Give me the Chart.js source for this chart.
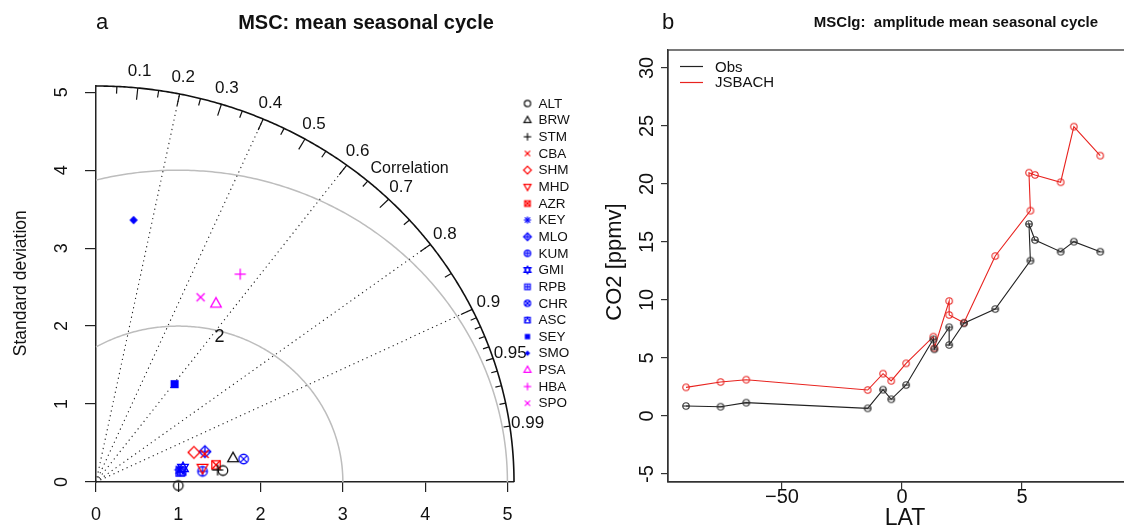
<!DOCTYPE html>
<html><head><meta charset="utf-8">
<script src="https://cdn.jsdelivr.net/npm/chart.js@4.4.1/dist/chart.umd.min.js"></script>
<style>
html,body{margin:0;padding:0;background:#fff;overflow:hidden;width:1124px;height:525px;position:relative}
#ca{position:absolute;left:0;top:0}
#cb{position:absolute;left:560px;top:0}
</style></head><body>
<canvas id="ca" width="600" height="525"></canvas>
<canvas id="cb" width="600" height="525"></canvas>
<script>
// ---------- Panel a: Taylor diagram data ----------
const stations = ['ALT','BRW','STM','CBA','SHM','MHD','AZR','KEY','MLO','KUM','GMI','RPB','CHR','ASC','SEY','SMO','PSA','HBA','SPO'];
const sdNorm   = [1.550,1.693,1.486,1.368,1.249,1.307,1.475,1.028,1.380,1.302,1.072,1.032,1.818,1.049,1.577,3.391,2.715,3.191,2.689];
const corrVals = [0.9955,0.9835,0.9946,0.9649,0.9527,0.9905,0.9888,0.9883,0.9593,0.9945,0.9858,0.9923,0.9868,0.9911,0.6056,0.1348,0.5371,0.5493,0.4726];
const refSd = 1;
const maxSd = 5.08;
const rmsArcs = [2, 4];
const corrLines = [0.2, 0.4, 0.6, 0.8, 0.9];
const corrLabels = [0.1,0.2,0.3,0.4,0.5,0.6,0.7,0.8,0.9,0.95,0.99];
const bigTicks = [0.1,0.2,0.3,0.4,0.5,0.6,0.7,0.8,0.9];
const medTicks = [0.05,0.15,0.25,0.35,0.45,0.55,0.65,0.75,0.85,0.95];
const smlTicks = [0.91,0.92,0.93,0.94,0.96,0.97,0.98,0.99];
const sdTicks = [0,1,2,3,4,5];

// styles per station
const symTypes = ['circle','tri','plus','x','dia','trid','sqx','ast','diaplus','circplus','david','sqplus','circx','sqtri','sqfill','diafill','tri','plus','x'];
const symColors = ['#111','#111','#111','#f00','#f00','#f00','#f00','#00f','#00f','#00f','#00f','#00f','#00f','#00f','#00f','#00f','#f0f','#f0f','#f0f'];

// ---------- Panel b data ----------
const latB   = [-90.0,-75.6,-64.9,-14.3,-7.9,-4.5,1.7,13.05,13.45,19.65,19.65,25.8,38.85,53.5,52.9,55.4,66.1,71.6,82.6];
const obsB   = [0.86,0.80,1.15,0.66,2.27,1.44,2.67,6.61,5.75,7.65,6.12,7.99,9.22,13.39,16.55,15.17,14.16,15.03,14.16];
const jsbB   = [2.47,2.93,3.13,2.24,3.65,3.03,4.54,6.84,5.84,9.91,8.71,8.04,13.79,17.70,20.97,20.78,20.15,24.94,22.44];
const xTicksB = [-50, 0, 50];
const xTickLabelsB = ['\u221250', '0', '5'];
const yTicksB = [-5, 0, 5, 10, 15, 20, 25, 30];
const seriesNamesB = ['Obs', 'JSBACH'];

const FONT = '"Liberation Sans", Arial, Helvetica, sans-serif';
Chart.defaults.font.family = FONT;

function makeSym(type, color, s, lw) {
  const pad = 2, size = Math.ceil(2 * s + 2 * pad);
  const c = document.createElement('canvas'); c.width = c.height = size;
  const g = c.getContext('2d'); const m = size / 2;
  g.strokeStyle = color; g.fillStyle = color; g.lineWidth = lw || 1.2;
  const P = (pts, close, fill) => { g.beginPath(); pts.forEach((p, i) => i ? g.lineTo(m + p[0] * s, m + p[1] * s) : g.moveTo(m + p[0] * s, m + p[1] * s)); if (close) g.closePath(); if (fill) g.fill(); else g.stroke(); };
  const circ = r => { g.beginPath(); g.arc(m, m, r * s, 0, 2 * Math.PI); g.stroke(); };
  const plus = r => { P([[-r,0],[r,0]]); P([[0,-r],[0,r]]); };
  const cross = r => { P([[-r,-r],[r,r]]); P([[-r,r],[r,-r]]); };
  const sq = (r, f) => P([[-r,-r],[r,-r],[r,r],[-r,r]], true, f);
  const tri = r => P([[0,-r*1.05],[r*0.95,r*0.65],[-r*0.95,r*0.65]], true);
  const trid = r => P([[0,r*1.05],[r*0.95,-r*0.65],[-r*0.95,-r*0.65]], true);
  const dia = (r, f) => P([[0,-r],[r,0],[0,r],[-r,0]], true, f);
  switch (type) {
    case 'circle': circ(0.85); break;
    case 'tri': tri(1); break;
    case 'plus': plus(1); break;
    case 'x': cross(0.72); break;
    case 'dia': dia(1.05); break;
    case 'trid': trid(1); break;
    case 'sqx': sq(0.75); cross(0.75); break;
    case 'ast': plus(0.95); cross(0.7); break;
    case 'diaplus': dia(1.05); plus(1.05); break;
    case 'circplus': circ(0.85); plus(0.85); break;
    case 'david': tri(1); trid(1); break;
    case 'sqplus': sq(0.75); plus(0.75); break;
    case 'circx': circ(0.85); cross(0.6); break;
    case 'sqtri': sq(0.75); P([[-0.75,0.75],[0,-0.75],[0.75,0.75]]); break;
    case 'sqfill': sq(0.72, true); break;
    case 'diafill': dia(0.75, true); break;
    case 'theta': circ(0.85); P([[-0.85,0],[0.85,0]]); break;
  }
  return c;
}

const plotSyms = stations.map((s, i) => makeSym(symTypes[i], symColors[i], 5.6, 1.3));
const legSyms = stations.map((s, i) => makeSym(symTypes[i], symColors[i], 3.7, 1.2));
const refSym = makeSym('circle', '#111', 5.6, 1.3);

function txt(ctx, s, x, y, font, align, rot) {
  ctx.save();
  ctx.font = font; ctx.fillStyle = '#111';
  ctx.textAlign = align || 'center'; ctx.textBaseline = 'middle';
  ctx.translate(x, y); if (rot) ctx.rotate(rot);
  ctx.fillText(s, 0, 0);
  ctx.restore();
}

const taylorDeco = {
  id: 'taylorDeco',
  beforeDatasetsDraw(chart) {
    const { ctx, scales: { x, y } } = chart;
    const X = v => x.getPixelForValue(v), Y = v => y.getPixelForValue(v);
    const polar = (r, th) => [X(r * Math.cos(th)), Y(r * Math.sin(th))];
    ctx.save();
    // RMS arcs
    ctx.strokeStyle = '#bdbdbd'; ctx.lineWidth = 1.5;
    rmsArcs.forEach(r => {
      const thMax = Math.acos(-refSd / r);
      ctx.beginPath();
      for (let i = 0; i <= 200; i++) {
        const th = thMax * i / 200;
        const px = X(refSd + r * Math.cos(th)), py = Y(r * Math.sin(th));
        i ? ctx.lineTo(px, py) : ctx.moveTo(px, py);
      }
      ctx.stroke();
    });
    // dotted correlation rays
    ctx.strokeStyle = '#222'; ctx.lineWidth = 1.1; ctx.setLineDash([1.2, 3.6]);
    corrLines.forEach(c => {
      const th = Math.acos(c);
      ctx.beginPath(); ctx.moveTo(X(0), Y(0));
      const p = polar(maxSd, th); ctx.lineTo(p[0], p[1]); ctx.stroke();
    });
    ctx.setLineDash([]);
    // outer arc
    ctx.strokeStyle = '#111'; ctx.lineWidth = 1.6;
    ctx.beginPath();
    for (let i = 0; i <= 300; i++) {
      const p = polar(maxSd, (Math.PI / 2) * i / 300);
      i ? ctx.lineTo(p[0], p[1]) : ctx.moveTo(p[0], p[1]);
    }
    ctx.stroke();
    // ticks on outer arc
    ctx.lineWidth = 1.2;
    const tick = (c, f) => {
      const th = Math.acos(c);
      const a = polar(maxSd, th), b = polar(maxSd * f, th);
      ctx.beginPath(); ctx.moveTo(a[0], a[1]); ctx.lineTo(b[0], b[1]); ctx.stroke();
    };
    bigTicks.forEach(c => tick(c, 0.97));
    medTicks.forEach(c => tick(c, 0.982));
    smlTicks.forEach(c => tick(c, 0.985));
    ctx.restore();
    // correlation labels
    corrLabels.forEach(c => {
      const p = polar(maxSd * 1.043, Math.acos(c));
      txt(ctx, String(c), p[0], p[1], '17px ' + FONT);
    });
    const pc = polar(maxSd * 1.09, 46.5 * Math.PI / 180);
    txt(ctx, 'Correlation', pc[0], pc[1], '16px ' + FONT);
    // rms label
    const thL = 75 * Math.PI / 180;
    txt(ctx, '2', X(refSd + 1.93 * Math.cos(thL)), Y(1.93 * Math.sin(thL)), '18px ' + FONT);
    // axis tick labels
    sdTicks.forEach(v => {
      txt(ctx, String(v), X(v), 515, '18px ' + FONT);
      txt(ctx, String(v), 62, Y(v), '18px ' + FONT, 'center', -Math.PI / 2);
    });
    txt(ctx, 'Standard deviation', 21, Y(2.55), '17.5px ' + FONT, 'center', -Math.PI / 2);
    // panel titles
    txt(ctx, 'a', 102, 23, '22px ' + FONT);
    txt(ctx, 'MSC: mean seasonal cycle', 366, 23, 'bold 20px ' + FONT);
    // legend
    stations.forEach((s, i) => {
      const yy = 103.5 + i * 16.65;
      const im = legSyms[i];
      ctx.drawImage(im, 527.5 - im.width / 2, yy - im.height / 2);
      txt(ctx, s, 538.5, yy + 0.5, '13.5px ' + FONT, 'left');
    });
  }
};

const taylorSets = stations.map((s, i) => ({
  label: s,
  data: [{ x: sdNorm[i] * corrVals[i], y: sdNorm[i] * Math.sqrt(1 - corrVals[i] * corrVals[i]) }],
  pointStyle: plotSyms[i],
  clip: false
}));
taylorSets.unshift({ label: 'ref', data: [{ x: refSd, y: -0.045 }], pointStyle: refSym, clip: false });

new Chart(document.getElementById('ca'), {
  type: 'scatter',
  data: { datasets: taylorSets },
  options: {
    responsive: false, animation: false, events: [], devicePixelRatio: 1,
    layout: { padding: { left: 0, top: 86, right: 86, bottom: 0 } },
    plugins: { legend: { display: false }, tooltip: { enabled: false }, title: { display: false } },
    scales: {
      x: {
        type: 'linear', min: 0, max: maxSd,
        afterFit: s => { s.height = 43; },
        afterBuildTicks: s => { s.ticks = sdTicks.map(v => ({ value: v })); },
        ticks: { display: false },
        grid: { display: true, drawOnChartArea: false, drawTicks: true, tickLength: 10, color: '#222', lineWidth: 1.2 },
        border: { display: true, color: '#222', width: 1.5 }
      },
      y: {
        type: 'linear', min: 0, max: maxSd,
        afterFit: s => { s.width = 96; },
        afterBuildTicks: s => { s.ticks = sdTicks.map(v => ({ value: v })); },
        ticks: { display: false },
        grid: { display: true, drawOnChartArea: false, drawTicks: true, tickLength: 11, color: '#222', lineWidth: 1.2 },
        border: { display: true, color: '#222', width: 1.5 }
      }
    }
  },
  plugins: [taylorDeco]
});

// ---------- Panel b ----------
const obsSym = makeSym('theta', '#333', 3.8, 1.2);
const jsbSym = makeSym('circle', '#e8231f', 3.8, 1.1);
const seriesColors = ['#222', '#e8231f'];

const ampDeco = {
  id: 'ampDeco',
  afterDatasetsDraw(chart) {
    const { ctx, chartArea: a, scales: { x, y } } = chart;
    ctx.save();
    ctx.strokeStyle = '#333'; ctx.lineWidth = 1.3;
    ctx.strokeRect(a.left, a.top, a.right - a.left, a.bottom - a.top);
    ctx.restore();
    yTicksB.forEach(v => txt(ctx, String(v), 87, y.getPixelForValue(v), '20px ' + FONT, 'center', -Math.PI / 2));
    xTicksB.forEach((v, i) => txt(ctx, xTickLabelsB[i], x.getPixelForValue(v), 497, '20px ' + FONT));
    txt(ctx, 'CO2 [ppmv]', 55, 262, '22px ' + FONT, 'center', -Math.PI / 2);
    txt(ctx, 'LAT', 345, 519, '23px ' + FONT);
    txt(ctx, 'b', 108, 23, '22px ' + FONT);
    txt(ctx, 'MSClg:  amplitude mean seasonal cycle', 396, 23, 'bold 15px ' + FONT);
    // legend
    seriesNamesB.forEach((n, i) => {
      const yy = 67.5 + i * 15.5;
      ctx.save(); ctx.strokeStyle = seriesColors[i]; ctx.lineWidth = 1.2;
      const ly = Math.round(yy - 1.5) + 0.5;
      ctx.beginPath(); ctx.moveTo(120, ly); ctx.lineTo(143, ly); ctx.stroke(); ctx.restore();
      txt(ctx, n, 155, yy, '15px ' + FONT, 'left');
    });
  }
};

new Chart(document.getElementById('cb'), {
  type: 'scatter',
  data: {
    datasets: [
      { label: seriesNamesB[0], data: latB.map((v, i) => ({ x: v, y: obsB[i] })), showLine: true,
        borderColor: seriesColors[0], borderWidth: 1.1, pointStyle: obsSym, tension: 0 },
      { label: seriesNamesB[1], data: latB.map((v, i) => ({ x: v, y: jsbB[i] })), showLine: true,
        borderColor: seriesColors[1], borderWidth: 1.1, pointStyle: jsbSym, tension: 0 }
    ]
  },
  options: {
    responsive: false, animation: false, events: [], devicePixelRatio: 1,
    layout: { padding: { left: 0, top: 50, right: 24, bottom: 0 } },
    plugins: { legend: { display: false }, tooltip: { enabled: false } },
    scales: {
      x: {
        type: 'linear', min: -97.5, max: 97.5,
        afterFit: s => { s.height = 43; },
        afterBuildTicks: s => { s.ticks = xTicksB.map(v => ({ value: v })); },
        ticks: { display: false },
        grid: { display: true, drawOnChartArea: false, drawTicks: true, tickLength: 7, color: '#333', lineWidth: 1.2 },
        border: { display: true, color: '#333', width: 1.3 }
      },
      y: {
        type: 'linear', min: -5.69, max: 31.55,
        afterFit: s => { s.width = 108; },
        afterBuildTicks: s => { s.ticks = yTicksB.map(v => ({ value: v })); },
        ticks: { display: false },
        grid: { display: true, drawOnChartArea: false, drawTicks: true, tickLength: 7, color: '#333', lineWidth: 1.2 },
        border: { display: true, color: '#333', width: 1.3 }
      }
    }
  },
  plugins: [ampDeco]
});
</script>
</body></html>
